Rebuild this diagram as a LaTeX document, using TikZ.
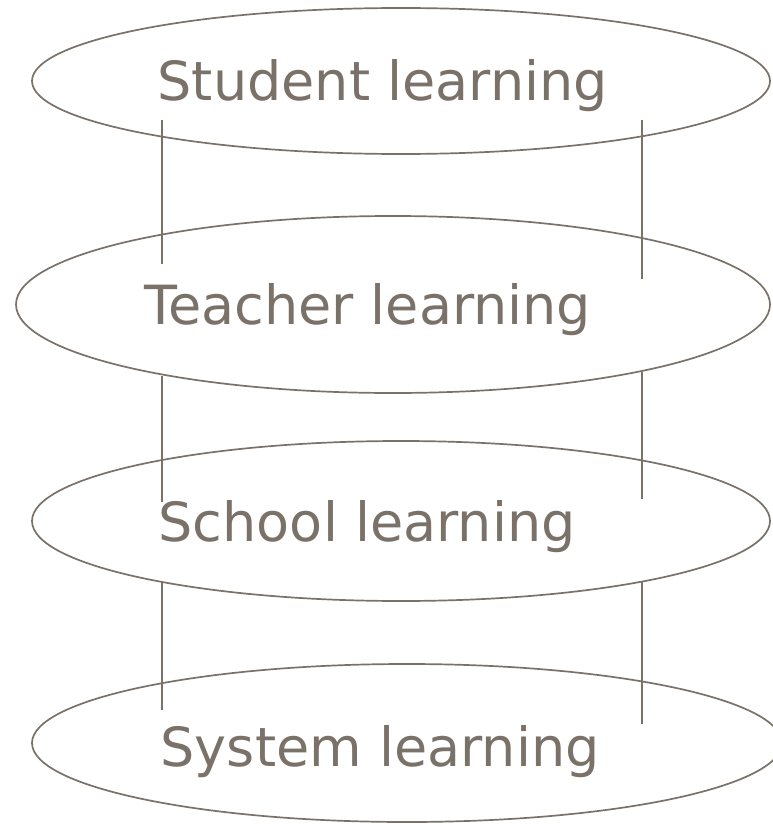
\documentclass[tikz,border=0pt]{standalone}
\usepackage{fontspec}
\setmainfont{DejaVu Sans}
\usetikzlibrary{shapes.geometric}
\definecolor{ink}{HTML}{7A7169}
\begin{document}
\begin{tikzpicture}[x=1pt,y=-1pt,
  layer/.style={draw=ink,line width=1.7pt,ellipse,inner sep=0pt},
  lbl/.style={anchor=base west,inner sep=0pt,text=ink,font=\fontsize{54}{60}\selectfont},
  link/.style={draw=ink,line width=1.7pt}]
\useasboundingbox (0,0) rectangle (773,824);
% layers
\node[layer,minimum width=738pt,minimum height=146pt] (e1) at (401,81) {};
\node[layer,minimum width=754pt,minimum height=177pt] (e2) at (393,304.5) {};
\node[layer,minimum width=738pt,minimum height=160pt] (e3) at (401,521) {};
\node[layer,minimum width=750pt,minimum height=158pt] (e4) at (407,743) {};
% labels
\node[lbl] (t1) at (157.5,101) {Student learning};
\node[lbl] (t2) at (144,324) {Teacher learning};
\node[lbl] (t3) at (158.5,541) {School learning};
\node[lbl] (t4) at (160.5,766) {System learning};
% link end points
\coordinate (a1) at (162,120); \coordinate (a2) at (162,264);
\coordinate (b1) at (642,120); \coordinate (b2) at (642,279);
\coordinate (c1) at (162,376); \coordinate (c2) at (162,502);
\coordinate (d1) at (642,372); \coordinate (d2) at (642,499);
\coordinate (f1) at (162,582); \coordinate (f2) at (162,710);
\coordinate (g1) at (642,582); \coordinate (g2) at (642,724);
\draw[link] (a1) -- (a2);
\draw[link] (b1) -- (b2);
\draw[link] (c1) -- (c2);
\draw[link] (d1) -- (d2);
\draw[link] (f1) -- (f2);
\draw[link] (g1) -- (g2);
\end{tikzpicture}
\end{document}
